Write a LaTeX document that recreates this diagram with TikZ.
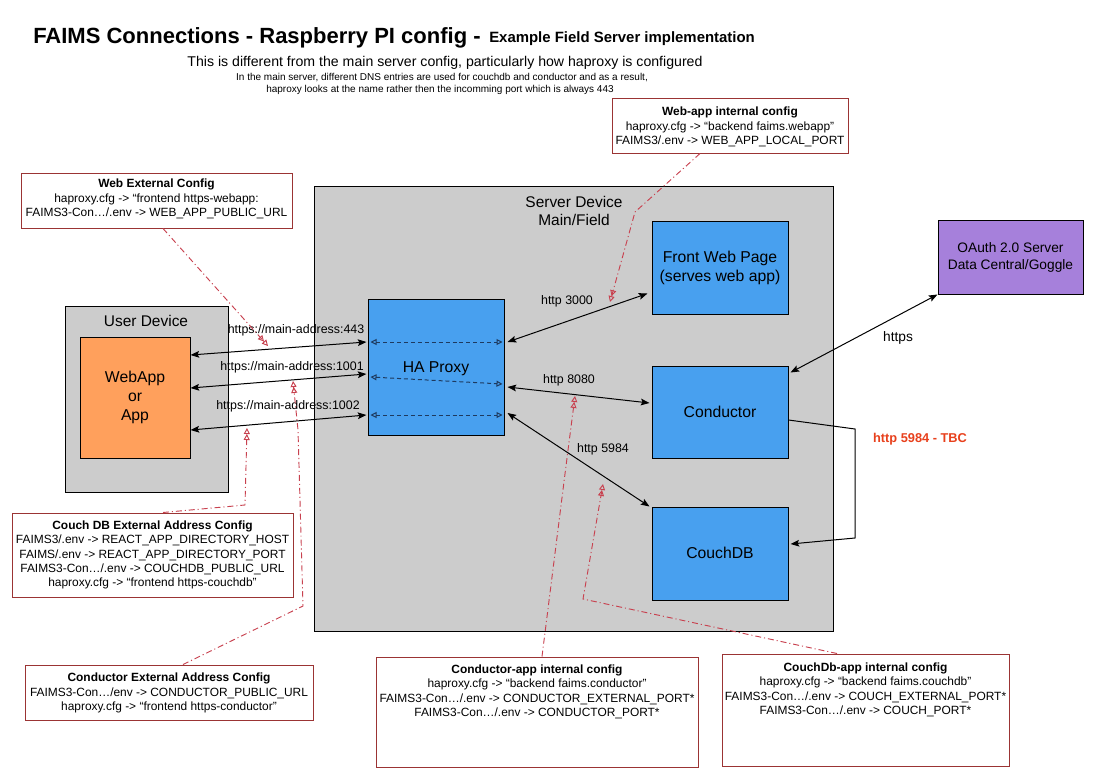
\documentclass[tikz,border=0pt]{standalone}
\usepackage{fontspec}
\setmainfont{Liberation Sans}
\usetikzlibrary{arrows.meta,fit,calc}
\definecolor{gboxc}{HTML}{CCCCCC}
\definecolor{bluec}{HTML}{48A0EF}
\definecolor{orangec}{HTML}{FFA05C}
\definecolor{purplec}{HTML}{A680DB}
\definecolor{cfgred}{HTML}{9B3434}
\definecolor{linkred}{HTML}{C8414F}
\definecolor{navyc}{HTML}{1E3A5F}
\definecolor{tbcred}{HTML}{E8401C}
\tikzset{
  txt/.style={inner sep=0pt, align=center},
  smallf/.style={font=\fontsize{9.3}{10.8}\selectfont},
  cfgf/.style={font=\fontsize{8.95}{10.8}\selectfont},
  bigf/.style={font=\fontsize{11.8}{14.2}\selectfont},
  graybox/.style={draw=black, fill=gboxc, line width=0.75pt, inner sep=0pt},
  bluebox/.style={draw=black, fill=bluec, line width=0.75pt, inner sep=0pt},
  orangebox/.style={draw=black, fill=orangec, line width=0.75pt, inner sep=0pt},
  purplebox/.style={draw=black, fill=purplec, line width=0.75pt, inner sep=0pt},
  cfgbox/.style={draw=cfgred, fill=white, line width=0.75pt, inner sep=0pt},
  conn/.style={draw=black, line width=0.75pt, {Stealth[length=6.5pt,width=5pt,inset=1.2pt]}-{Stealth[length=6.5pt,width=5pt,inset=1.2pt]}},
  conn1/.style={draw=black, line width=0.75pt, -{Stealth[length=6.5pt,width=5pt,inset=1.2pt]}},
  inner/.style={draw=navyc, line width=0.75pt, dash pattern=on 3pt off 2.2pt,
     {Triangle[open,length=4.5pt,width=4.5pt]}-{Triangle[open,length=4.5pt,width=4.5pt]}},
  redlink/.style={draw=linkred, line width=0.7pt, dash pattern=on 4.5pt off 2.2pt on 0.8pt off 2.2pt,
     -{Triangle[open,length=4.5pt,width=4.5pt]Triangle[open,length=4.5pt,width=4.5pt]}},
  lbl/.style={txt, smallf},
  cfgtxt/.style={txt, cfgf}
}
\begin{document}
\begin{tikzpicture}[x=0.75pt,y=-0.75pt]
\useasboundingbox (0,0) rectangle (1118,782);
\fill[white] (0,0) rectangle (1118,782);

% titles
\node[txt, anchor=west, font=\fontsize{16.5}{18}\selectfont\bfseries] (title) at (33,38) {FAIMS Connections - Raspberry PI config -};
\node[txt, anchor=west, font=\fontsize{11.2}{13}\selectfont\bfseries] (title2) at (489,39) {Example Field Server implementation};
\node[txt, font=\fontsize{10.6}{12}\selectfont] (sub1) at (445,63) {This is different from the main server config, particularly how haproxy is configured};
\node[txt, font=\fontsize{7.5}{8}\selectfont] (sub2) at (442,78) {In the main server, different DNS entries are used for couchdb and conductor and as a result,};
\node[txt, font=\fontsize{7.5}{8}\selectfont] (sub3) at (440,90) {haproxy looks at the name rather then the incomming port which is always 443};

% containers
\node[graybox, fit={(314,186)(833,631)}] (srv) {};
\node[txt, font=\fontsize{11.6}{13.5}\selectfont] (srvlbl) at (574,211) {Server Device\\Main/Field};
\node[graybox, fit={(65,306)(228,492)}] (usr) {};
\node[txt, font=\fontsize{11.6}{13.5}\selectfont] (usrlbl) at (146,321) {User Device};

% main nodes
\node[orangebox, fit={(80,337)(190,458)}] (app) {};
\node[txt, bigf] (apptxt) at (135,397) {WebApp\\or\\App};
\node[bluebox, fit={(368,299)(504,435)}] (hap) {};
\node[txt, bigf] (haptxt) at (436,369) {HA Proxy};
\node[bluebox, fit={(652,221)(788,314)}] (fwp) {};
\node[txt, bigf] (fwptxt) at (720,267.5) {Front Web Page\\(serves web app)};
\node[bluebox, fit={(652,366)(788,458)}] (cond) {};
\node[txt, bigf] (condtxt) at (720,412) {Conductor};
\node[bluebox, fit={(652,507)(788,600)}] (cdb) {};
\node[txt, bigf] (cdbtxt) at (720,553) {CouchDB};
\node[purplebox, fit={(938,220)(1083,294)}] (oauth) {};
\node[txt, font=\fontsize{10.3}{12.7}\selectfont] (oauthtxt) at (1010.5,257.5) {OAuth 2.0 Server\\Data Central/Goggle};

% config boxes
\node[cfgbox, fit={(612,98)(848,153)}] (wai) {};
\node[cfgtxt] (waitxt) at (730,127) {\textbf{Web-app internal config}\\haproxy.cfg -> “backend faims.webapp”\\FAIMS3/.env -> WEB\_APP\_LOCAL\_PORT};
\node[cfgbox, fit={(21,173)(292,228)}] (wec) {};
\node[cfgtxt] (wectxt) at (156.5,199) {\textbf{Web External Config}\\haproxy.cfg -> “frontend https-webapp:\\FAIMS3-Con…/.env -> WEB\_APP\_PUBLIC\_URL};
\node[cfgbox, fit={(12,513)(293,597)}] (cdbe) {};
\node[cfgtxt] (cdbetxt) at (152.5,555) {\textbf{Couch DB External Address Config}\\FAIMS3/.env -> REACT\_APP\_DIRECTORY\_HOST\\FAIMS/.env -> REACT\_APP\_DIRECTORY\_PORT\\FAIMS3-Con…/.env -> COUCHDB\_PUBLIC\_URL\\haproxy.cfg -> “frontend https-couchdb”};
\node[cfgbox, fit={(25,665)(313,720)}] (cea) {};
\node[cfgtxt] (ceatxt) at (169,693) {\textbf{Conductor External Address Config}\\FAIMS3-Con…/env -> CONDUCTOR\_PUBLIC\_URL\\haproxy.cfg -> “frontend https-conductor”};
\node[cfgbox, fit={(376,657)(698,767)}] (cai) {};
\node[cfgtxt] (caitxt) at (537,692) {\textbf{Conductor-app internal config}\\haproxy.cfg -> “backend faims.conductor”\\FAIMS3-Con…/.env -> CONDUCTOR\_EXTERNAL\_PORT*\\FAIMS3-Con…/.env -> CONDUCTOR\_PORT*};
\node[cfgbox, fit={(722,654)(1009,766)}] (cbi) {};
\node[cfgtxt] (cbitxt) at (865.5,690) {\textbf{CouchDb-app internal config}\\haproxy.cfg -> “backend faims.couchdb”\\FAIMS3-Con…/.env -> COUCH\_EXTERNAL\_PORT*\\FAIMS3-Con…/.env -> COUCH\_PORT*};

% user <-> haproxy
\draw[conn] ($(app.east)+(0,-42.5)$) -- ($(hap.west)+(-1,-25)$);
\draw[conn] ($(app.east)+(0,-9.5)$) -- ($(hap.west)+(-1,7)$);
\draw[conn] ($(app.east)+(0,32.5)$) -- ($(hap.west)+(-1,48)$);
\node[lbl] (l443) at (296,330) {https://main-address:443};
\node[lbl] (l1001) at (292,367) {https://main-address:1001};
\node[lbl] (l1002) at (288,406) {https://main-address:1002};

% inside haproxy
\draw[inner] ($(hap.west)+(3,-25)$) -- ($(hap.east)+(-2,-25)$);
\draw[inner] ($(hap.west)+(3,10)$) -- ($(hap.east)+(-2,17)$);
\draw[inner] ($(hap.west)+(3,48)$) -- ($(hap.east)+(-2,48)$);

% haproxy <-> services
\draw[conn] ($(hap.east)+(3,-25)$) -- ($(fwp.west)+(-4,26)$);
\draw[conn] ($(hap.east)+(3,20)$) -- ($(cond.west)+(-2,-9)$);
\draw[conn] ($(hap.east)+(3,46)$) -- ($(cdb.north west)+(-2,0)$);
\node[lbl] (l3000) at (567,301) {http 3000};
\node[lbl] (l8080) at (569,380) {http 8080};
\node[lbl] (l5984) at (603,449) {http 5984};

% conductor <-> oauth
\draw[conn] ($(cond.north east)+(2,7)$) -- (oauth.south west);
\node[txt, font=\fontsize{10.3}{12}\selectfont] (lhttps) at (898,338) {https};

% conductor -> couchdb
\coordinate (k1) at (855,429);
\coordinate (k2) at (855,538);
\draw[conn1] ($(cond.east)+(0,8)$) -- (k1) -- (k2) -- ($(cdb.east)+(2,-9.5)$);
\node[txt, text=tbcred, font=\fontsize{9.6}{11}\selectfont\bfseries] (ltbc) at (920,439) {http 5984 - TBC};

% red config links
\coordinate (t443) at (268,346);
\draw[redlink] ($(wec.south)+(6.5,0)$) -- (t443);
\coordinate (wk) at (635,212);
\coordinate (t3000) at (610,302);
\draw[redlink] ($(wai.south)+(-30,0)$) -- (wk) -- (t3000);
\coordinate (ck1) at (303,606);
\coordinate (ck2) at (298,430);
\coordinate (t1001) at (293,381);
\draw[redlink] ($(cea.north)+(14,0)$) -- (ck1) -- (ck2) -- (t1001);
\coordinate (dk1) at (245,505);
\coordinate (t1002) at (247,428);
\draw[redlink] ($(cdbe.north)+(10.5,0)$) -- (dk1) -- (t1002);
\coordinate (ak1) at (567,458);
\coordinate (t8080) at (575,396);
\draw[redlink] ($(cai.north)+(5,0)$) -- (ak1) -- (t8080);
\coordinate (bk1) at (583,599);
\coordinate (t5984) at (603,484);
\draw[redlink] ($(cbi.north)+(-28.5,0)$) -- (bk1) -- (t5984);
\end{tikzpicture}
\end{document}
